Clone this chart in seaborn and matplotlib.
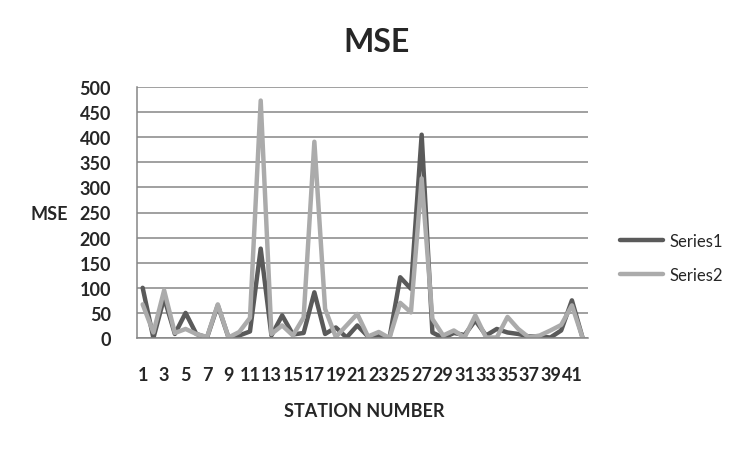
import matplotlib
matplotlib.use("Agg")
import matplotlib.pyplot as plt
import seaborn as sns
import pandas as pd
import numpy as np
from matplotlib.ticker import FixedLocator
from matplotlib.lines import Line2D

stations = list(range(1, 43))
series1 = [100, 0, 80, 8, 50, 8, 1, 65, 1, 5, 13, 178, 5, 45, 7, 10, 91, 8, 21, 1,
           25, 3, 6, 0, 121, 98, 405, 11, 0, 10, 6, 35, 5, 18, 11, 8, 3, 3, 1, 15,
           75, 0]
series2 = [67, 11, 95, 10, 18, 8, 2, 67, 1, 12, 40, 473, 8, 25, 5, 41, 391, 58, 2, 25,
           48, 3, 12, 0, 70, 51, 318, 38, 5, 15, 1, 45, 1, 1, 42, 18, 1, 5, 15, 26,
           65, 0]
series_names = ["Series1", "Series2"]
xtick_labels = [str(i) for i in range(1, 42, 2)]
yticks = list(range(0, 501, 50))

df = pd.DataFrame({
    "station": stations * 2,
    "mse": series1 + series2,
    "series": [series_names[0]] * len(stations) + [series_names[1]] * len(stations),
})

sns.set_style("white")
plt.rcParams["font.family"] = ["Lato", "DejaVu Sans"]

fig = plt.figure(figsize=(7.52, 4.52), dpi=100)
ax = fig.add_axes([137.3 / 752, 1 - 339 / 452, (588 - 137.3) / 752, (339 - 88) / 452])

sns.lineplot(data=df, x="station", y="mse", hue="series",
             palette={"Series1": "#5a5a5a", "Series2": "#ababab"},
             linewidth=3.2, ax=ax, legend=False, sort=False)

ax.set_xlim(0.5, 42.5)
ax.set_ylim(0, 500)
ax.set_yticks(yticks)
ax.set_yticklabels([str(v) for v in yticks], fontsize=13, fontweight="bold")
ax.grid(axis="y", color="#868686", linewidth=1.1)
ax.set_axisbelow(True)

ax.xaxis.set_major_locator(FixedLocator(list(range(1, 42, 2))))
ax.set_xticklabels(xtick_labels, fontsize=13, fontweight="bold")
ax.xaxis.set_minor_locator(FixedLocator(list(np.arange(0.5, 43, 1.0))))
ax.tick_params(axis="x", which="major", length=0, pad=20)
ax.tick_params(axis="x", which="minor", length=5, width=1, color="#868686", direction="out")
ax.tick_params(axis="y", which="major", length=5, width=1, color="#868686", direction="out", pad=14)

for side in ["top", "right"]:
    ax.spines[side].set_visible(False)
for side in ["left", "bottom"]:
    ax.spines[side].set_color("#868686")
    ax.spines[side].set_linewidth(1.1)

ax.set_xlabel("")
ax.set_ylabel("")
fig.text(364 / 752, 1 - 412 / 452, "STATION NUMBER", ha="center", va="center",
         fontsize=13, fontweight="bold")
fig.text(49 / 752, 1 - 215 / 452, "MSE", ha="center", va="center",
         fontsize=13, fontweight="bold")
fig.text(376 / 752, 1 - 42 / 452, "MSE", ha="center", va="center",
         fontsize=23, fontweight="bold")

handles = [Line2D([0], [0], color="#5a5a5a", linewidth=3.2),
           Line2D([0], [0], color="#ababab", linewidth=3.2)]
fig.legend(handles, series_names, loc="center left",
           bbox_to_anchor=(620 / 752, 1 - 259 / 452), frameon=False,
           fontsize=12, handlelength=2.6, handletextpad=0.35, labelspacing=1.05,
           borderpad=0, borderaxespad=0)

fig.savefig("out.png", dpi=100)
